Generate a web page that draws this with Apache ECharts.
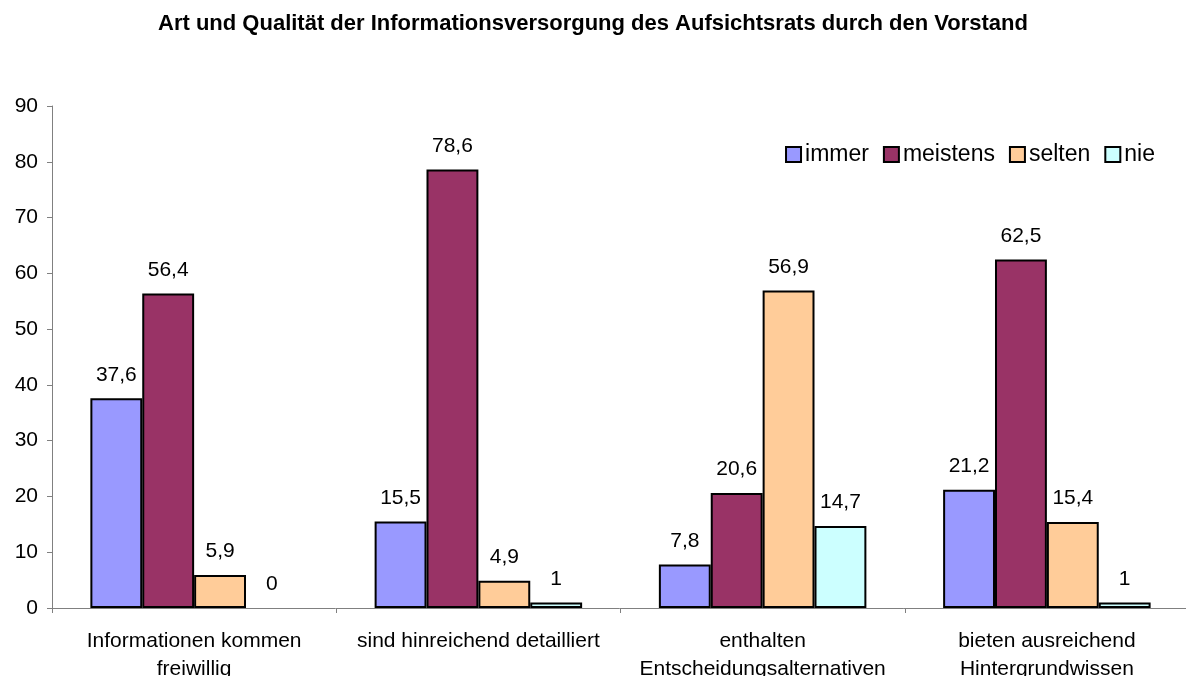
<!DOCTYPE html>
<html>
<head>
<meta charset="utf-8">
<script src="https://cdn.jsdelivr.net/npm/echarts@6/dist/echarts.min.js"></script>
<style>
  html, body { margin: 0; padding: 0; background: #fff; }
  #chart { width: 1186px; height: 676px; }
</style>
</head>
<body>
<div id="chart"></div>
<script>
// categories (x axis)
const categories = [
  "Informationen kommen\nfreiwillig",
  "sind hinreichend detailliert",
  "enthalten\nEntscheidungsalternativen",
  "bieten ausreichend\nHintergrundwissen"
];
const immer = [37.6, 15.5, 7.8, 21.2];
const meistens = [56.4, 78.6, 20.6, 62.5];
const selten = [5.9, 4.9, 56.9, 15.4];
const nie = [0, 1, 14.7, 1];

const font = "Liberation Sans, Arial, sans-serif";

function bar(name, data, color) {
  return {
    name: name,
    type: "bar",
    // zero-height bars get no outline
    data: data.map((v) => (v === 0 ? { value: v, itemStyle: { borderWidth: 0 } } : v)),
    barGap: "0%",
    barCategoryGap: "27%",
    itemStyle: { color: color, borderColor: "#000", borderWidth: 2 },
    label: {
      show: true,
      position: "top",
      distance: 13,
      color: "#000",
      fontFamily: font,
      fontSize: 21,
      formatter: (p) => String(p.value).replace(".", ",")
    }
  };
}

const chart = echarts.init(document.getElementById("chart"));
chart.setOption({
  animation: false,
  textStyle: { fontFamily: font },
  title: {
    text: "Art und Qualität der Informationsversorgung des Aufsichtsrats durch den Vorstand",
    left: "center",
    top: 8,
    textStyle: { fontFamily: font, fontSize: 22, fontWeight: "bold", color: "#000" }
  },
  legend: {
    right: 26,
    top: 138,
    icon: "rect",
    itemWidth: 15,
    itemHeight: 15,
    itemGap: 14,
    itemStyle: { borderColor: "#000", borderWidth: 2 },
    textStyle: { fontFamily: font, fontSize: 23, color: "#000", padding: [0, 0, 0, -1] },
    data: ["immer", "meistens", "selten", "nie"]
  },
  grid: { left: 52, top: 106, width: 1137, height: 502, outerBoundsMode: "none", containLabel: false },
  xAxis: {
    type: "category",
    data: categories,
    axisLine: { lineStyle: { color: "#808080", width: 1 } },
    axisTick: { show: true, length: 5, inside: false, lineStyle: { color: "#808080" } },
    axisLabel: { color: "#000", fontFamily: font, fontSize: 21, margin: 19, lineHeight: 28, interval: 0 }
  },
  yAxis: {
    type: "value",
    min: 0,
    max: 90,
    interval: 10,
    axisLine: { show: true, lineStyle: { color: "#808080", width: 1 } },
    axisTick: { show: true, length: 5, lineStyle: { color: "#808080" } },
    splitLine: { show: false },
    axisLabel: { color: "#000", fontFamily: font, fontSize: 21, margin: 14 }
  },
  series: [
    bar("immer", immer, "#9999FF"),
    bar("meistens", meistens, "#993366"),
    bar("selten", selten, "#FFCC99"),
    bar("nie", nie, "#CCFFFF")
  ]
});
</script>
</body>
</html>
